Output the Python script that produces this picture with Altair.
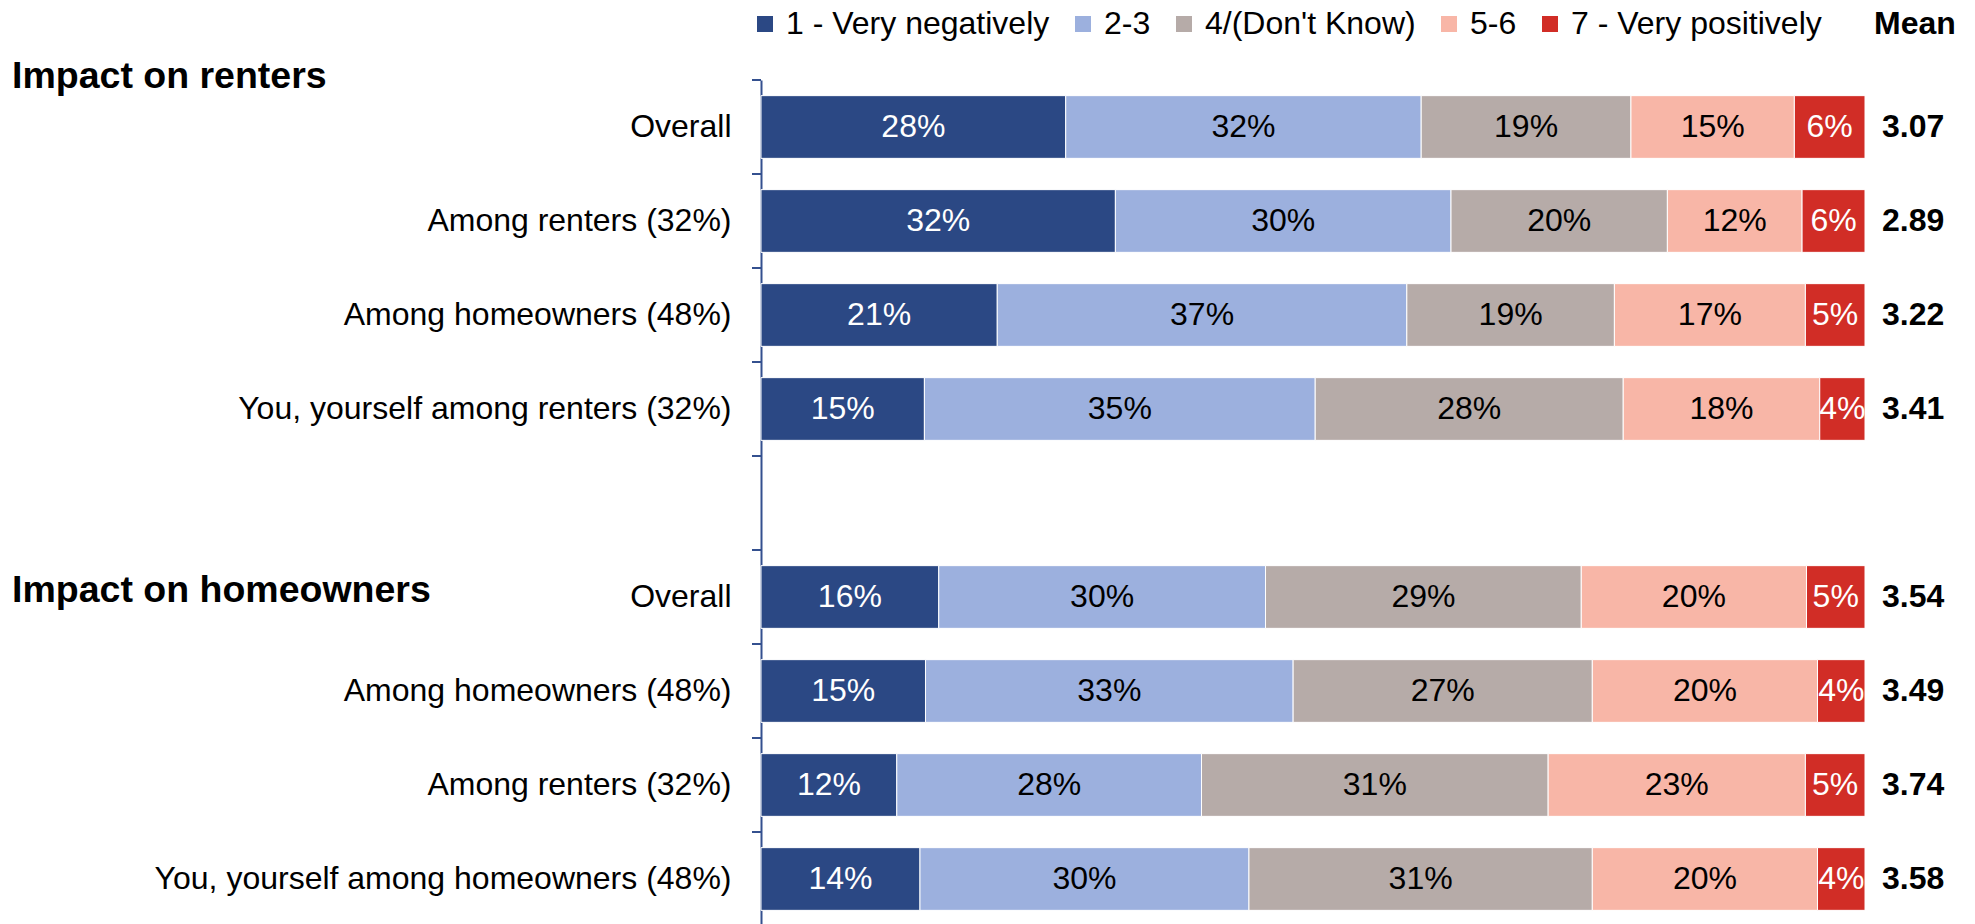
import altair as alt
import pandas as pd

FONT = "Liberation Sans"

# ---- data ----
row_keys = ["r1", "r2", "r3", "r4", "gap", "h1", "h2", "h3", "h4"]
row_labels = ["Overall", "Among renters (32%)", "Among homeowners (48%)",
              "You, yourself among renters (32%)", "",
              "Overall", "Among homeowners (48%)", "Among renters (32%)",
              "You, yourself among homeowners (48%)"]
bar_rows = ["r1", "r2", "r3", "r4", "h1", "h2", "h3", "h4"]
categories = ["1 - Very negatively", "2-3", "4/(Don't Know)", "5-6", "7 - Very positively"]
colors = ["#2B4884", "#9CB0DE", "#B6ABA8", "#F8B6A7", "#D12D26"]

very_neg = [27.6, 32.1, 21.4, 14.8, 16.1, 14.9, 12.3, 14.4]
neg = [32.2, 30.4, 37.1, 35.4, 29.6, 33.3, 27.6, 29.8]
neutral = [19.0, 19.6, 18.8, 27.9, 28.6, 27.1, 31.4, 31.1]
pos = [14.8, 12.2, 17.3, 17.8, 20.4, 20.4, 23.3, 20.4]
very_pos = [6.4, 5.7, 5.4, 4.1, 5.3, 4.3, 5.4, 4.3]
means = [3.07, 2.89, 3.22, 3.41, 3.54, 3.49, 3.74, 3.58]
headers = ["Impact on renters", "Impact on homeowners"]

series = [very_neg, neg, neutral, pos, very_pos]

recs = []
mean_recs = []
for i, key in enumerate(bar_rows):
    start = 0.0
    for j, cat in enumerate(categories):
        v = series[j][i]
        recs.append(dict(key=key, cat=cat, idx=j, start=start, end=start + v,
                         mid=start + v / 2, label=f"{int(v + 0.5)}%"))
        start += v
    mean_recs.append(dict(key=key, tot=start, mean=f"{means[i]:.2f}"))

df = pd.DataFrame(recs)
mdf = pd.DataFrame(mean_recs)

FS = 32
label_map = "{" + ",".join(f"'{k}':\"{l}\"" for k, l in zip(row_keys, row_labels)) + "}"

y_scale = alt.Scale(domain=row_keys, paddingInner=0, paddingOuter=0)
y_axis = alt.Axis(title=None, labelExpr=f"{label_map}[datum.value]", labelFont=FONT,
                  labelFontSize=FS, labelColor="black", labelPadding=30, labelLimit=800,
                  ticks=False, domainColor="#34508F", domainWidth=2, grid=False)
x_scale = alt.Scale(domain=[0, 100], nice=False, zero=True)

Y = lambda **kw: alt.Y("key:N", scale=y_scale, axis=y_axis, **kw)

bars = alt.Chart(df).mark_bar(height={"band": 0.667}, stroke="white", strokeWidth=1).encode(
    y=Y(),
    x=alt.X("start:Q", scale=x_scale, axis=None),
    x2="end:Q",
    color=alt.Color("cat:N", scale=alt.Scale(domain=categories, range=colors),
                    legend=alt.Legend(orient="none", legendX=-12, legendY=-72,
                                      direction="horizontal", title=None,
                                      symbolType="square", symbolSize=256,
                                      symbolStrokeWidth=0, labelFont=FONT,
                                      labelFontSize=FS, labelColor="black",
                                      labelLimit=600, columnPadding=17,
                                      labelOffset=5, padding=0)),
    order=alt.Order("idx:Q"),
)

pct = alt.Chart(df).mark_text(font=FONT, fontSize=FS, baseline="middle").encode(
    y=Y(),
    x=alt.X("mid:Q", scale=x_scale, axis=None),
    text="label:N",
    color=alt.condition("datum.idx == 0 || datum.idx == 4", alt.value("white"), alt.value("black")),
)

mean_txt = alt.Chart(mdf).mark_text(font=FONT, fontSize=FS, fontWeight="bold",
                                    align="left", baseline="middle", dx=17, color="black").encode(
    y=Y(),
    x=alt.X("tot:Q", scale=x_scale, axis=None),
    text="mean:N",
)

mean_head = alt.Chart(pd.DataFrame({"tot": [100], "t": ["Mean"]})).mark_text(
    font=FONT, fontSize=FS, fontWeight="bold", align="left", baseline="middle", dx=9,
    color="black").encode(
    x=alt.X("tot:Q", scale=x_scale, axis=None),
    y=alt.value(-56),
    text="t:N",
)

ticks = alt.Chart(pd.DataFrame({"key": row_keys})).mark_rule(color="#34508F", strokeWidth=2).encode(
    y=Y(bandPosition=0),
    x=alt.value(-9),
    x2=alt.value(0),
)

head1 = alt.Chart(pd.DataFrame({"key": ["r1"], "t": [headers[0]]})).mark_text(
    font=FONT, fontSize=37.5, fontWeight="bold", align="left", baseline="middle", dy=-3,
    color="black").encode(
    y=Y(bandPosition=0),
    x=alt.value(-749),
    text="t:N",
)

head2 = alt.Chart(pd.DataFrame({"key": ["h1"], "t": [headers[1]]})).mark_text(
    font=FONT, fontSize=37.5, fontWeight="bold", align="left", baseline="middle", dy=-6,
    color="black").encode(
    y=Y(bandPosition=0.5),
    x=alt.value(-749),
    text="t:N",
)

chart = alt.layer(bars, pct, mean_txt, mean_head, ticks, head1, head2).properties(
    width=1104, height=846,
    padding={"left": 4, "top": 0, "right": 4, "bottom": 0},
).configure(font=FONT).configure_view(stroke=None)

chart.save("out.html", embed_options={"renderer": "svg", "actions": False})
